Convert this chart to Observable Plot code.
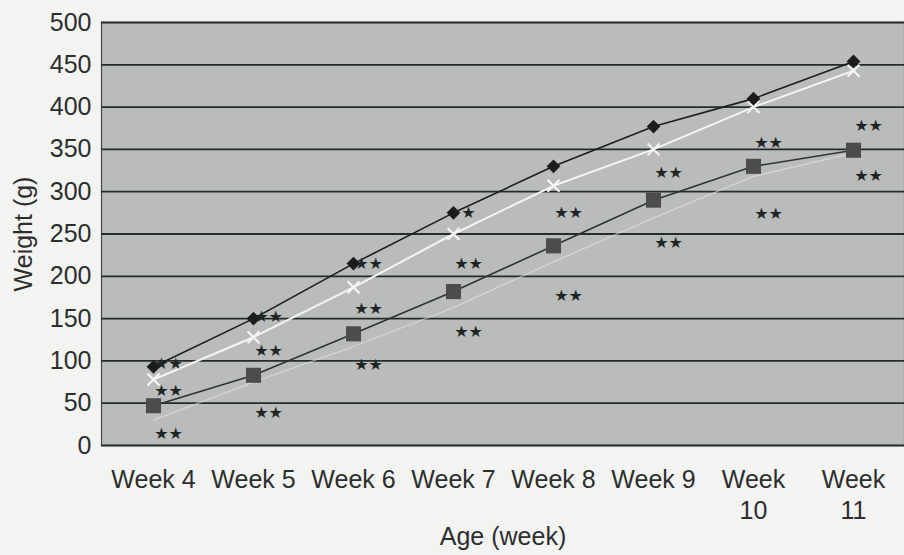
<!DOCTYPE html>
<html>
<head>
<meta charset="utf-8">
<script src="https://cdn.jsdelivr.net/npm/d3@7"></script>
<script src="https://cdn.jsdelivr.net/npm/@observablehq/plot@0.6"></script>
<style>
  html, body { margin: 0; padding: 0; background: #f3f4f2; }
  #chart { width: 904px; height: 555px; }
</style>
</head>
<body>
<div id="chart"></div>
<script>
// Age categories (x axis)
const weeks = ["Week 4", "Week 5", "Week 6", "Week 7", "Week 8", "Week 9", "Week 10", "Week 11"];

// Body weight (g) per group
const groupDiamond = [93, 150, 215, 275, 330, 377, 410, 454];
const groupCross   = [78, 128, 187, 250, 307, 350, 400, 443];
const groupSquare  = [47, 83, 132, 182, 236, 290, 330, 349];
const groupFaint   = [30, 75, 117, 163, 217, 269, 318, 346];

// Significance markers
const starWeeks  = ["Week 4", "Week 4", "Week 4", "Week 5", "Week 5", "Week 5",
                    "Week 6", "Week 6", "Week 6", "Week 7", "Week 7", "Week 7",
                    "Week 8", "Week 8", "Week 9", "Week 9", "Week 10", "Week 10",
                    "Week 11", "Week 11"];
const starValues = [96, 65, 14, 152, 112, 38, 215, 161, 95, 275, 215, 134,
                    275, 177, 322, 239, 358, 274, 378, 319];
const starLabels = ["★★", "★★", "★★", "★★", "★★", "★★", "★★", "★★", "★★", "★", "★★", "★★",
                    "★★", "★★", "★★", "★★", "★★", "★★", "★★", "★★"];

// Y ticks
const yTicks = [0, 50, 100, 150, 200, 250, 300, 350, 400, 450, 500];

const toRows = (vals) => weeks.map((w, i) => ({week: w, value: vals[i]}));
const diamondRows = toRows(groupDiamond);
const crossRows = toRows(groupCross);
const squareRows = toRows(groupSquare);
const faintRows = toRows(groupFaint);
const stars = starWeeks.map((w, i) => ({week: w, value: starValues[i], label: starLabels[i]}));

const chart = Plot.plot({
  width: 904,
  height: 555,
  marginLeft: 101,
  marginRight: 0,
  marginTop: 22,
  marginBottom: 110,
  style: {background: "transparent", fontFamily: "'Liberation Sans', Arial, sans-serif", color: "#2c2e2e"},
  x: {type: "point", domain: weeks, padding: 0.5},
  y: {domain: [0, 500]},
  marks: [
    Plot.frame({fill: "#b9bcba", stroke: "#454a4a", strokeWidth: 1.2}),
    Plot.ruleY(yTicks, {stroke: "#262b2c", strokeWidth: 1.8}),
    Plot.axisY({
      ticks: yTicks, tickSize: 0, tickPadding: 10, fontSize: 25,
      label: "Weight (g)", labelAnchor: "center", labelArrow: "none", labelOffset: 87
    }),
    Plot.axisX({
      tickSize: 0, tickPadding: 20, fontSize: 25, lineHeight: 1.25,
      tickFormat: (d) => d.length > 6 ? d.replace(" ", "\n") : d,
      label: "Age (week)", labelAnchor: "center", labelArrow: "none", labelOffset: 99
    }),
    // faint group
    Plot.line(faintRows, {x: "week", y: "value", stroke: "#e6e8e6", strokeWidth: 1.3, strokeOpacity: 0.6}),
    // square group
    Plot.line(squareRows, {x: "week", y: "value", stroke: "#2f3433", strokeWidth: 1.6}),
    Plot.dot(squareRows, {x: "week", y: "value", symbol: "square", r: 8.5, fill: "#4b4d4d"}),
    // cross group
    Plot.line(crossRows, {x: "week", y: "value", stroke: "#f4f5f2", strokeWidth: 2}),
    Plot.dot(crossRows, {x: "week", y: "value", symbol: "times", r: 5.5, stroke: "#f7f8f6", strokeWidth: 2}),
    // diamond group
    Plot.line(diamondRows, {x: "week", y: "value", stroke: "#1c1f1f", strokeWidth: 1.6}),
    Plot.dot(diamondRows, {x: "week", y: "value", symbol: "diamond2", r: 6.2, fill: "#1b1d1d"}),
    // significance stars
    Plot.text(stars, {
      x: "week", y: "value", text: "label", dx: 15, fontSize: 16,
      fontFamily: "'DejaVu Sans', sans-serif", fill: "#1f2424", letterSpacing: 2
    })
  ]
});

document.getElementById("chart").appendChild(chart);
</script>
</body>
</html>
